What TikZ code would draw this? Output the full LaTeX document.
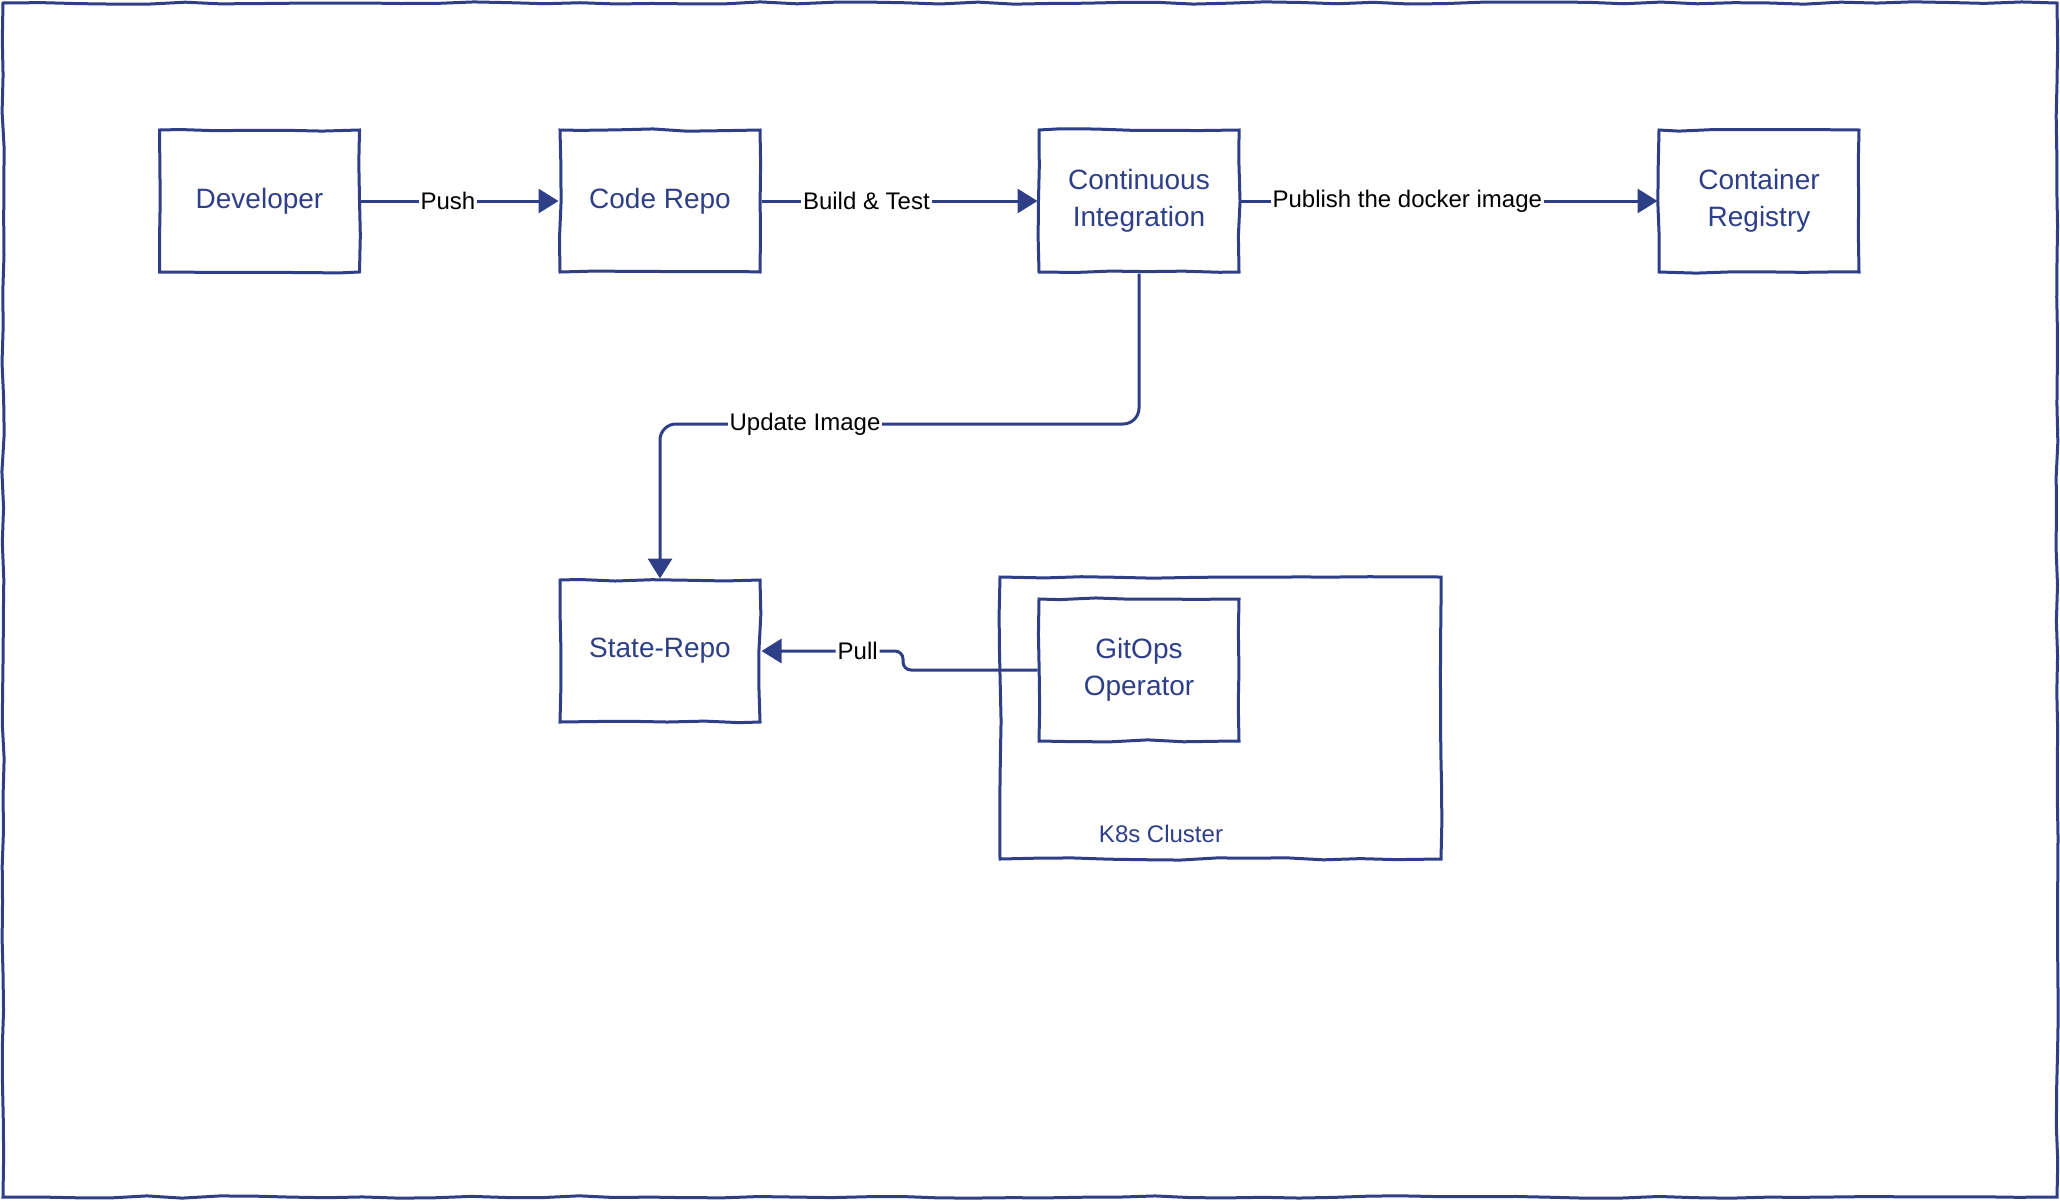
\documentclass[tikz,border=0pt]{standalone}
\usepackage{fontspec}
\setmainfont{Liberation Sans}
\usetikzlibrary{arrows.meta,decorations.pathmorphing}
\definecolor{inkblue}{RGB}{46,63,136}

\begin{document}
\begin{tikzpicture}[x=0.5pt,y=-0.5pt]
  \pgfmathsetseed{42}
  \tikzstyle{sketch}=[draw=inkblue, line width=1.5pt, decorate,
    decoration={random steps,segment length=18pt,amplitude=0.6pt}]
  \tikzstyle{box}=[sketch, minimum width=100pt, minimum height=71pt, align=center,
    text=inkblue, font=\fontsize{14}{18.5}\selectfont]
  \tikzstyle{link}=[draw=inkblue, line width=1.5pt, -{Triangle[length=10pt,width=12pt]}]
  \tikzstyle{tag}=[fill=white, text=black, inner sep=1pt, font=\fontsize{12}{12}\selectfont]
  \useasboundingbox (0,0) rectangle (2060,1200);
  \draw[sketch] (3,3) rectangle (2057,1197);
  \node[box] (dev) at (259.5,201) {Developer};
  \node[box] (code) at (660,201) {Code Repo};
  \node[box] (ci) at (1139,201) {Continuous\\Integration};
  \node[box] (registry) at (1759,201) {Container\\Registry};
  \node[box] (state) at (660,651) {State-Repo};
  \node[sketch, minimum width=220.5pt, minimum height=141pt] (k8s) at (1220.5,718) {};
  \node[text=inkblue, font=\fontsize{12}{12}\selectfont] (k8slabel) at (1161,834) {K8s Cluster};
  \node[box] (gitops) at (1139,670) {GitOps\\Operator};
  \coordinate (bend) at (660,424);
  \coordinate (jog) at (903,670);
  \draw[link] (dev) -- node[tag, pos=0.44] {Push} (code);
  \draw[link] (code) -- node[tag, pos=0.38] {Build \& Test} (ci);
  \draw[link] (ci) -- node[tag, pos=0.4] {Publish the docker image} (registry);
  \draw[link, rounded corners=8pt] (ci.south) |- (bend) -- (state.north);
  \node[tag] (updlabel) at (805,424) {Update Image};
  \draw[link, rounded corners=4pt] (gitops.west) -- (jog) |- node[tag, pos=0.66] {Pull} (state.east);
\end{tikzpicture}
\end{document}
